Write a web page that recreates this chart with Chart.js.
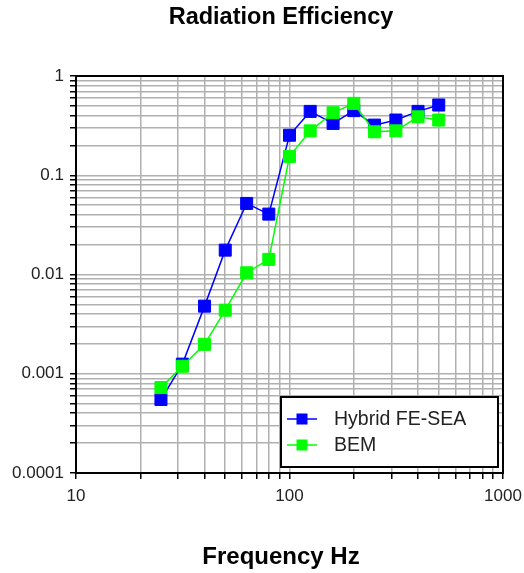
<html>
<head>
<script type="text/javascript" src="https://cdn.jsdelivr.net/npm/chart.js@4.4.0/dist/chart.umd.min.js"></script>
<style>
  body { margin: 0; background: #fff; }
  canvas { display: block; }
</style>
</head>
<body>
<canvas id="myChart" width="524" height="573"></canvas>
<script type="text/javascript">
// one-third octave band centre frequencies
var freqs = [25, 31.5, 40, 50, 63, 80, 100, 125, 160, 200, 250, 315, 400, 500];
var hybrid = [0.00055, 0.00125, 0.0048, 0.0176, 0.052, 0.0406, 0.253, 0.44, 0.333, 0.448, 0.32, 0.36, 0.44, 0.51];
var bem = [0.000725, 0.00119, 0.00198, 0.00437, 0.0104, 0.0142, 0.155, 0.28, 0.426, 0.53, 0.274, 0.28, 0.388, 0.36];
var seriesNames = ["Hybrid FE-SEA", "BEM"];
var seriesColors = ["#0000ff", "#00ff00"];

var xTickValues = [10, 100, 1000];
var xTickLabels = ["10", "100", "1000"];
var yTickValues = [0.0001, 0.001, 0.01, 0.1, 1];
var yTickLabels = ["0.0001", "0.001", "0.01", "0.1", "1"];

var chartTitle = "Radiation Efficiency";
var xTitle = "Frequency Hz";

var FONT = "'Liberation Sans', Arial, sans-serif";

function toPoints(ys) {
  return ys.map(function (y, i) { return { x: freqs[i], y: y }; });
}

// 1..9 x 10^n grid between two decades
function decadeTicks(lo, hi) {
  var out = [];
  for (var e = Math.round(Math.log10(lo)); e <= Math.round(Math.log10(hi)); e++) {
    for (var k = 1; k <= 9; k++) {
      var v = parseFloat((k * Math.pow(10, e)).toPrecision(4));
      if (v >= lo && v <= hi) out.push({ value: v });
    }
  }
  return out;
}

function lookup(values, labels) {
  return function (value) {
    for (var i = 0; i < values.length; i++) {
      if (Math.abs(values[i] - value) < values[i] * 1e-6) return labels[i];
    }
    return "";
  };
}

var frame = {
  id: "frame",
  afterDatasetsDraw: function (chart) {
    var a = chart.chartArea, ctx = chart.ctx;
    ctx.save();
    ctx.strokeStyle = "#000";
    ctx.lineWidth = 2;
    ctx.strokeRect(a.left, a.top, a.right - a.left, a.bottom - a.top);
    ctx.restore();
  }
};

// titles sit a bit left of the plot centre in the original
var titles = {
  id: "titles",
  afterDraw: function (chart) {
    var ctx = chart.ctx;
    ctx.save();
    ctx.fillStyle = "#000";
    ctx.textAlign = "center";
    ctx.textBaseline = "middle";
    ctx.font = "bold 23.5px " + FONT;
    ctx.fillText(chartTitle, 281, 18);
    ctx.font = "bold 24px " + FONT;
    ctx.fillText(xTitle, 281, 557);
    ctx.restore();
  }
};

// boxed legend sitting in the lower right of the plot
var boxLegend = {
  id: "boxLegend",
  afterDraw: function (chart) {
    var ctx = chart.ctx;
    var bx = 281, by = 397, bw = 217, bh = 70;
    ctx.save();
    ctx.fillStyle = "#fff";
    ctx.fillRect(bx, by, bw, bh);
    ctx.strokeStyle = "#000";
    ctx.lineWidth = 2;
    ctx.strokeRect(bx, by, bw, bh);
    chart.data.datasets.forEach(function (ds, i) {
      var y = by + 22 + i * 26;
      ctx.strokeStyle = ds.borderColor;
      ctx.lineWidth = 1.5;
      ctx.beginPath();
      ctx.moveTo(287, y);
      ctx.lineTo(317, y);
      ctx.stroke();
      ctx.fillStyle = ds.backgroundColor;
      ctx.fillRect(296.5, y - 5.5, 11, 11);
      ctx.fillStyle = "#222";
      ctx.font = "19.5px " + FONT;
      ctx.textBaseline = "middle";
      ctx.textAlign = "left";
      ctx.fillText(ds.label, 334, y + 1);
    });
    ctx.restore();
  }
};

var ctx = document.getElementById("myChart").getContext("2d");
var myChart = new Chart(ctx, {
  type: "line",
  data: {
    datasets: [{
      label: seriesNames[0],
      data: toPoints(hybrid),
      borderColor: seriesColors[0],
      backgroundColor: seriesColors[0],
      borderWidth: 1.5,
      pointStyle: "rect",
      pointRadius: 8.5,
      pointBorderWidth: 1,
      order: 1
    }, {
      label: seriesNames[1],
      data: toPoints(bem),
      borderColor: seriesColors[1],
      backgroundColor: seriesColors[1],
      borderWidth: 1.5,
      pointStyle: "rect",
      pointRadius: 8.5,
      pointBorderWidth: 1,
      order: 0
    }]
  },
  options: {
    responsive: false,
    animation: false,
    layout: { padding: { left: 0, right: 21, top: 76, bottom: 60 } },
    plugins: {
      legend: { display: false },
      tooltip: { enabled: false }
    },
    scales: {
      x: {
        type: "logarithmic",
        min: 10,
        max: 1000,
        afterBuildTicks: function (scale) { scale.ticks = decadeTicks(10, 1000); },
        afterFit: function (scale) {
          scale.height = 40;
          scale.paddingLeft = 0;
          scale.paddingRight = 0;
        },
        grid: { color: "#b0b0b0", lineWidth: 1.5, tickColor: "#000", tickLength: 6 },
        border: { display: false },
        ticks: {
          autoSkip: false,
          maxRotation: 0,
          padding: 7,
          color: "#222",
          font: { family: FONT, size: 17 },
          callback: lookup(xTickValues, xTickLabels)
        }
      },
      y: {
        type: "logarithmic",
        min: 0.0001,
        max: 1,
        afterBuildTicks: function (scale) { scale.ticks = decadeTicks(0.0001, 1); },
        afterFit: function (scale) {
          scale.width = 76;
          scale.paddingTop = 0;
          scale.paddingBottom = 0;
        },
        grid: { color: "#b0b0b0", lineWidth: 1.5, tickColor: "#000", tickLength: 6 },
        border: { display: false },
        ticks: {
          autoSkip: false,
          padding: 6,
          color: "#222",
          font: { family: FONT, size: 17 },
          callback: lookup(yTickValues, yTickLabels)
        }
      }
    }
  },
  plugins: [frame, titles, boxLegend]
});
</script>
</body>
</html>
